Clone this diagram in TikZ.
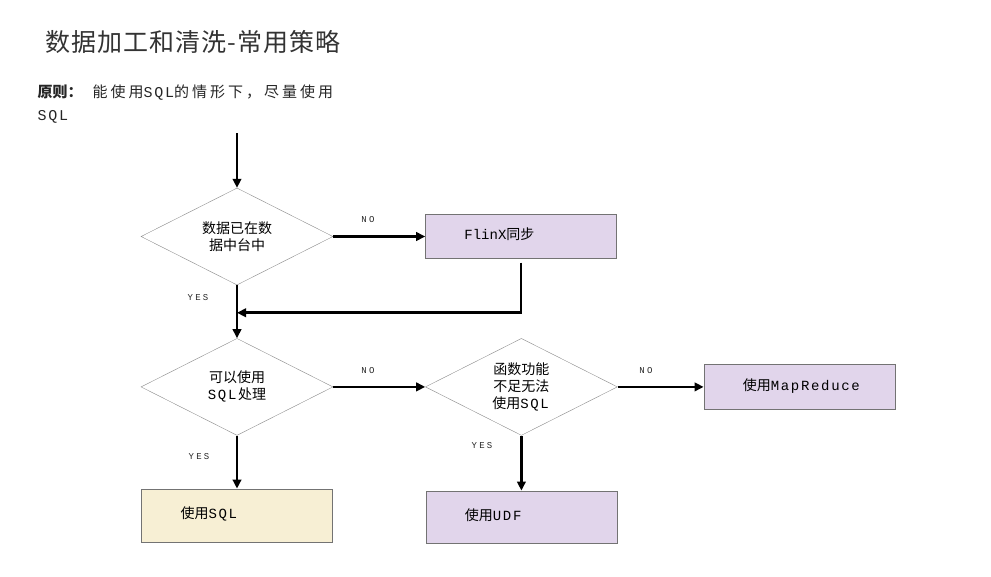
\documentclass[tikz,border=0pt]{standalone}
\usepackage{fontspec}
\setmainfont{Noto Sans CJK SC}
\setmonofont{Liberation Mono}[LetterSpace=12]
\newfontfamily\latnarrow{Liberation Mono}
\newfontfamily\lablat{Liberation Mono}[LetterSpace=25]
\usetikzlibrary{positioning,shapes.geometric,arrows.meta,calc}

\definecolor{boxlav}{HTML}{E1D5EB}
\definecolor{boxcream}{HTML}{F7EFD4}
\definecolor{edgegray}{HTML}{8C8C8C}

\begin{document}
\begin{tikzpicture}[
        x=1pt, y=-1pt,
        decision/.style={diamond, draw=edgegray, fill=white, thin, aspect=2, minimum width=192pt, minimum height=97pt, inner sep=0pt, align=center, font=\fontsize{14}{17}\selectfont},
        action/.style={rectangle, draw=black!55, thin, text width=113pt, inner xsep=39pt, align=left, text depth=5pt, font=\fontsize{14}{17}\selectfont},
        flow/.style={line width=2.8pt, -{Triangle[length=9pt,width=8.5pt]}},
        answer/.style={font=\lablat\fontsize{9}{10}\selectfont, text=black!85},
    ]
    \useasboundingbox (0,0) rectangle (991,576);

    \node[anchor=west, font=\fontsize{25}{30}\selectfont\addfontfeature{LetterSpace=4}, text=black!80] (title) at (42,42) {数据加工和清洗-常用策略};
    \node[anchor=west, font=\fontsize{15}{18}\selectfont, text=black!85] (rule) at (34,93) {\textbf{原则：}\hspace{10pt}{\addfontfeature{LetterSpace=20}能使用{\ttfamily SQL}的情形下，尽量使用}};
    \node[anchor=west, font=\fontsize{15}{18}\ttfamily, text=black!85] (rule2) at (34,117) {SQL};

    \node[decision] (dec1) at (237,236.5) {数据已在数\\据中台中};
    \node[action, fill=boxlav, minimum height=44pt] (flink) [right=92pt of dec1] {{\latnarrow FlinX}同步};
    \node[decision] (dec2) [below=53pt of dec1] {可以使用\\\texttt{SQL}处理};
    \node[decision] (dec3) [right=92pt of dec2] {函数功能\\不足无法\\使用\texttt{SQL}};
    \node[action, fill=boxlav, minimum height=45pt] (mapred) [right=86pt of dec3] {使用\texttt{MapReduce}};
    \node[action, fill=boxcream, minimum height=53pt, anchor=north] (usesql) at ($(dec2.south)+(0,53)$) {使用\texttt{SQL}};
    \node[action, fill=boxlav, minimum height=52pt, anchor=north] (useudf) at ($(dec3.south)+(0,55)$) {使用\texttt{UDF}};

    \coordinate (start) at (237,133);
    \coordinate (join) at ($(dec1.south)!0.52!(dec2.north)$);

    \node[answer] (no1) at (368,220) {NO};
    \node[answer] (yes1) at (198,298) {YES};
    \node[answer] (no2) at (368,371) {NO};
    \node[answer] (no3) at (646,371) {NO};
    \node[answer] (yes2) at (199,457) {YES};
    \node[answer] (yes3) at (482,446) {YES};

    \draw[flow] (start) -- (dec1.north);
    \draw[flow] (dec1.east) -- (flink.west);
    \draw[flow, shorten <=4pt] (flink.south) |- (join);
    \draw[flow] (dec1.south) -- (dec2.north);
    \draw[flow] (dec2.east) -- (dec3.west);
    \draw[flow] (dec3.east) -- (mapred.west);
    \draw[flow] (dec2.south) -- (usesql.north);
    \draw[flow] (dec3.south) -- (dec3.south |- useudf.north);
\end{tikzpicture}
\end{document}
